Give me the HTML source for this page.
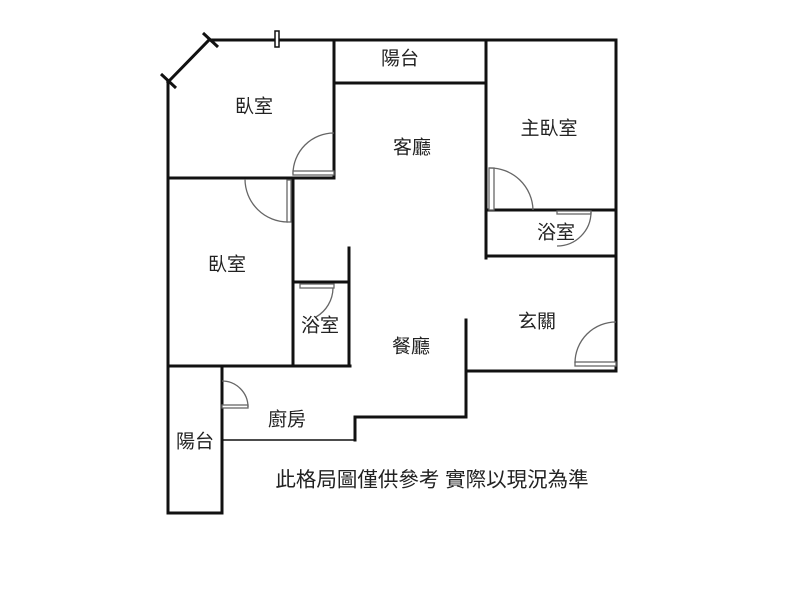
<!DOCTYPE html>
<html><head><meta charset="utf-8"><style>
html,body{margin:0;padding:0;background:#fff;}
svg{display:block;}
text{font-family:"Liberation Sans","Noto Sans CJK TC",sans-serif;font-size:19px;fill:#222;text-anchor:middle;dominant-baseline:central;}
</style></head><body>
<svg width="800" height="600" viewBox="0 0 800 600" xmlns="http://www.w3.org/2000/svg">
<g stroke="#111" stroke-width="3" fill="none" stroke-linecap="square">
<line x1="210" y1="40" x2="615" y2="40"/>
<line x1="168" y1="82" x2="168" y2="513"/>
<line x1="168" y1="82" x2="208" y2="41"/>
<line x1="334" y1="40" x2="334" y2="177"/>
<line x1="334" y1="83" x2="486" y2="83"/>
<line x1="486" y1="40" x2="486" y2="258"/>
<line x1="168" y1="178" x2="334" y2="178"/>
<line x1="293" y1="178" x2="293" y2="366"/>
<line x1="168" y1="366" x2="350" y2="366"/>
<line x1="349" y1="248" x2="349" y2="366"/>
<line x1="293" y1="282" x2="349" y2="282"/>
<line x1="222" y1="366" x2="222" y2="513"/>
<line x1="168" y1="513" x2="222" y2="513"/>
<line x1="616" y1="40" x2="616" y2="371"/>
<line x1="486" y1="210" x2="614" y2="210"/>
<line x1="486" y1="256" x2="616" y2="256"/>
<line x1="466" y1="371" x2="616" y2="371"/>
<line x1="466" y1="320" x2="466" y2="417"/>
<line x1="355" y1="417" x2="466" y2="417"/>
<line x1="355" y1="417" x2="355" y2="440"/>
</g>
<line x1="222" y1="440" x2="355" y2="440" stroke="#111" stroke-width="1.5"/>
<g stroke="#111" stroke-width="1.5" fill="#fff">
<rect x="275" y="31" width="4" height="16"/>
<line x1="161" y1="74" x2="176" y2="88" stroke-width="3"/>
<line x1="203" y1="33" x2="218" y2="47" stroke-width="3"/>
</g>
<g stroke="#666" stroke-width="1.3" fill="none">
<path d="M334 133 A41 41 0 0 0 293 174"/>
<rect x="293" y="171" width="41" height="4" fill="#fff"/>
<path d="M245 179 A43 43 0 0 0 288 222"/>
<rect x="287" y="180" width="4" height="42" fill="#fff"/>
<rect x="300" y="284" width="34" height="4" fill="#fff"/>
<path d="M333 288 A34 34 0 0 1 316 317"/>
<rect x="222" y="405" width="26" height="3" fill="#fff"/>
<path d="M222 381 A26 26 0 0 1 248 407"/>
<rect x="489" y="168" width="5" height="42" fill="#fff"/>
<path d="M489 168 A43 43 0 0 1 533 210"/>
<rect x="557" y="211" width="34" height="3" fill="#fff"/>
<path d="M591 212 A34 34 0 0 1 557 246"/>
<rect x="575" y="362" width="41" height="4" fill="#fff"/>
<path d="M616 322 A41 41 0 0 0 575 363"/>
</g>
<text x="400" y="59">陽台</text>
<text x="254" y="107">臥室</text>
<text x="412" y="148">客廳</text>
<text x="549" y="129">主臥室</text>
<text x="556" y="233">浴室</text>
<text x="227" y="265">臥室</text>
<text x="320" y="326">浴室</text>
<text x="411" y="347">餐廳</text>
<text x="537" y="322">玄關</text>
<text x="287" y="420">廚房</text>
<text x="195" y="442">陽台</text>
<text x="432" y="480" style="font-size:20.5px">此格局圖僅供參考 實際以現況為準</text>
</svg>
</body></html>
